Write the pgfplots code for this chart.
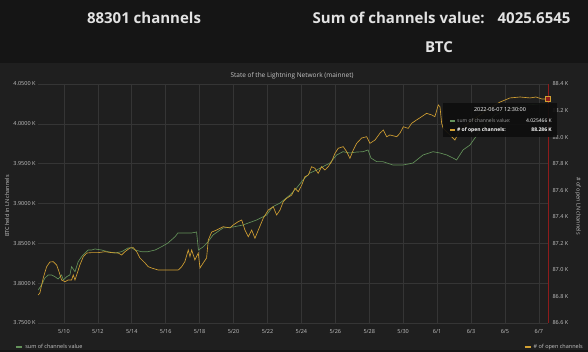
\documentclass[border=0pt]{standalone}
\usepackage{pgfplots}
\pgfplotsset{compat=1.18}
\usepackage{fontspec}
\setmainfont{Open Sans}
\definecolor{hdrbg}{HTML}{151515}
\definecolor{panelbg}{HTML}{1F1F1F}
\definecolor{gridc}{HTML}{353535}
\definecolor{tickc}{HTML}{C4C4C4}
\definecolor{hdrtext}{HTML}{E2E2E2}
\definecolor{greenl}{HTML}{64925A}
\definecolor{yellowl}{HTML}{D2A032}
\definecolor{redl}{HTML}{8E1B1B}
\definecolor{tipbg}{HTML}{0E0E0E}
\pgfplotsset{
  small/.style={font=\fontsize{5.5}{6.5}\selectfont, text=tickc},
}
\begin{document}
\begin{tikzpicture}[x=1pt,y=1pt]
\fill[hdrbg] (0,0) rectangle (588,352);
\fill[panelbg] (0,2) rectangle (588,289);
% header
\node[text=hdrtext, font=\fontsize{15}{17}\selectfont\bfseries] at (144,334) {88301 channels};
\node[text=hdrtext, font=\fontsize{15}{17}\selectfont\bfseries, anchor=east] at (574,334) {Sum of channels value:\hspace{13pt}4025.6545};
\node[text=hdrtext, font=\fontsize{15}{17}\selectfont\bfseries] at (439,305) {BTC};
% panel title
\node[text=tickc, font=\fontsize{6.5}{7.5}\selectfont] at (292,276) {State of the Lightning Network (mainnet)};
% axis titles
\node[text=tickc, font=\fontsize{5.5}{6.5}\selectfont, rotate=90] at (7,146) {BTC held in LN channels};
\node[text=tickc, font=\fontsize{5.5}{6.5}\selectfont, rotate=-90] at (578,146) {\# of open LN channels};

\begin{axis}[
  at={(38pt,29pt)}, anchor=south west, scale only axis,
  width=510pt, height=239pt,
  xmin=-1.53, xmax=28.54, ymin=3.75, ymax=4.05,
  axis line style={draw=none},
  xtick={0,2,...,28},
  xticklabels={5/10,5/12,5/14,5/16,5/18,5/20,5/22,5/24,5/26,5/28,5/30,6/1,6/3,6/5,6/7},
  ytick={3.75,3.80,3.85,3.90,3.95,4.00,4.05},
  yticklabels={3.7500 K,3.8000 K,3.8500 K,3.9000 K,3.9500 K,4.0000 K,4.0500 K},
  grid=major, major grid style={draw=gridc, line width=0.6pt},
  tick style={draw=none},
  ticklabel style={small},
  xticklabel style={yshift=-3pt},
  yticklabel style={xshift=1pt},
  legend style={at={(axis description cs:-0.045,-0.100)}, anchor=west, draw=none, fill=none, small, inner sep=0pt},
  legend image code/.code={\draw[#1, line width=2pt] (0pt,0pt) -- (6pt,0pt);},
]
\addplot[greenl, line width=0.65pt] coordinates {
(-1.52,3.7914)(-1.32,3.7977)(-1.12,3.8065)(-0.93,3.8103)(-0.73,3.8103)(-0.53,3.8081)(-0.34,3.8052)(-0.14,3.8103)(-0.04,3.8040)(0.16,3.8081)(0.35,3.8103)(0.45,3.8207)(0.65,3.8144)(0.84,3.8270)(1.04,3.8332)(1.24,3.8379)(1.43,3.8416)(1.63,3.8416)(1.83,3.8429)(2.22,3.8416)(2.59,3.8395)(3.01,3.8379)(3.40,3.8395)(3.77,3.8441)(3.99,3.8445)(4.19,3.8416)(4.58,3.8395)(4.95,3.8395)(5.37,3.8416)(5.76,3.8458)(6.13,3.8504)(6.55,3.8583)(6.72,3.8630)(7.13,3.8630)(7.53,3.8630)(7.82,3.8642)(7.93,3.8416)(8.20,3.8454)(8.49,3.8517)(8.79,3.8605)(9.38,3.8693)(9.97,3.8705)(10.55,3.8730)(11.36,3.8793)(11.95,3.8856)(12.32,3.8960)(12.74,3.9006)(13.33,3.9107)(13.72,3.9195)(14.09,3.9295)(14.51,3.9383)(14.90,3.9421)(15.27,3.9462)(15.68,3.9508)(16.08,3.9609)(16.45,3.9650)(16.86,3.9634)(17.26,3.9646)(17.63,3.9650)(17.93,3.9672)(18.10,3.9571)(18.44,3.9525)(18.81,3.9525)(19.40,3.9483)(19.99,3.9483)(20.58,3.9508)(21.17,3.9609)(21.76,3.9650)(22.17,3.9634)(22.57,3.9609)(22.94,3.9571)(23.15,3.9546)(23.53,3.9672)(23.94,3.9734)(24.23,3.9822)(24.82,3.9985)(25.41,4.0111)(26.30,4.0199)(27.18,4.0236)(28.54,4.025466)
};
\addlegendentry{sum of channels value}
\end{axis}

\begin{axis}[
  at={(38pt,29pt)}, anchor=south west, scale only axis,
  width=510pt, height=239pt,
  xmin=-1.53, xmax=28.54, ymin=86.6, ymax=88.4,
  axis x line=none, axis y line*=right,
  y axis line style={draw=redl, line width=0.8pt},
  ytick={86.6,86.8,87.0,87.2,87.4,87.6,87.8,88.0,88.2,88.4},
  yticklabels={86.6 K,86.8 K,87.0 K,87.2 K,87.4 K,87.6 K,87.8 K,88.0 K,88.2 K,88.4 K},
  tick style={draw=none},
  ticklabel style={small},
  yticklabel style={xshift=1pt},
  legend style={at={(axis description cs:1.0725,-0.100)}, anchor=east, draw=none, fill=none, small, inner sep=0pt},
  legend image code/.code={\draw[#1, line width=2pt] (0pt,0pt) -- (6pt,0pt);},
  clip=false,
]
\addplot[yellowl, line width=0.65pt] coordinates {
(-1.52,86.811)(-1.42,86.826)(-1.22,86.939)(-1.02,87.024)(-0.83,87.059)(-0.63,87.062)(-0.43,87.037)(-0.29,86.986)(-0.14,86.924)(0.06,86.911)(0.25,86.924)(0.45,86.924)(0.55,86.962)(0.65,86.924)(0.75,86.962)(0.94,87.037)(1.14,87.099)(1.34,87.127)(1.63,87.130)(2.02,87.130)(2.42,87.137)(2.81,87.130)(3.20,87.127)(3.40,87.112)(3.60,87.137)(3.89,87.165)(4.09,87.167)(4.29,87.137)(4.48,87.090)(4.78,87.052)(4.97,87.024)(5.17,87.014)(5.56,86.999)(5.96,86.999)(6.35,86.999)(6.74,86.999)(6.94,87.024)(7.13,87.062)(7.33,87.150)(7.43,87.099)(7.53,87.150)(7.72,87.075)(7.92,87.127)(8.02,87.014)(8.21,87.052)(8.41,87.090)(8.51,87.225)(8.71,87.285)(9.00,87.300)(9.39,87.325)(9.79,87.316)(9.98,87.338)(10.27,87.363)(10.48,87.376)(10.67,87.300)(10.87,87.250)(11.07,87.300)(11.26,87.238)(11.46,87.300)(11.75,87.389)(12.05,87.451)(12.34,87.476)(12.54,87.413)(12.74,87.451)(12.93,87.514)(13.13,87.539)(13.43,87.564)(13.62,87.615)(13.82,87.589)(14.02,87.639)(14.21,87.702)(14.41,87.715)(14.60,87.777)(14.80,87.765)(14.99,87.727)(15.19,87.777)(15.39,87.752)(15.58,87.777)(15.78,87.815)(15.98,87.878)(16.17,87.916)(16.47,87.928)(16.67,87.890)(16.86,87.840)(17.06,87.903)(17.26,87.953)(17.55,87.993)(17.85,88.003)(18.04,87.953)(18.34,87.978)(18.63,88.029)(18.83,88.054)(19.03,88.003)(19.22,88.016)(19.62,88.003)(19.81,88.029)(20.01,88.078)(20.30,88.066)(20.50,88.104)(20.79,88.129)(21.09,88.154)(21.38,88.179)(21.68,88.167)(21.87,88.154)(22.07,88.242)(22.17,88.229)(22.27,88.104)(22.36,88.066)(22.76,88.016)(23.05,87.978)(23.35,88.054)(23.94,88.114)(24.53,88.167)(25.12,88.219)(25.71,88.264)(26.30,88.295)(26.89,88.302)(27.48,88.295)(27.83,88.302)(28.18,88.287)(28.54,88.286)
};
\addlegendentry{\# of open channels}
\addplot[only marks, mark=square*, mark size=2.3pt, mark options={draw=yellowl, fill=redl, line width=0.9pt, rounded corners=0.8pt}, forget plot] coordinates {(28.54,88.286)};
\end{axis}

% tooltip
\fill[tipbg, opacity=0.92] (443,215) rectangle (557,249);
\node[text=white, font=\fontsize{5.5}{6.5}\selectfont] at (500,242) {2022-06-07 12:30:00};
\draw[greenl, line width=1.5pt] (450,231) -- (455,231);
\node[text=tickc!80!black, font=\fontsize{5}{6}\selectfont, anchor=west, inner sep=0pt] at (457,231) {sum of channels value:};
\node[text=white, font=\fontsize{5}{6}\selectfont, anchor=east, inner sep=0pt] at (552,231) {4.025466 K};
\draw[yellowl, line width=1.5pt] (450,222) -- (455,222);
\node[text=white, font=\fontsize{5}{6}\selectfont\bfseries, anchor=west, inner sep=0pt] at (457,222) {\# of open channels:};
\node[text=white, font=\fontsize{5}{6}\selectfont\bfseries, anchor=east, inner sep=0pt] at (552,222) {88.286 K};

\pgfresetboundingbox
\path (0,0) rectangle (588,352);
\end{tikzpicture}
\end{document}
